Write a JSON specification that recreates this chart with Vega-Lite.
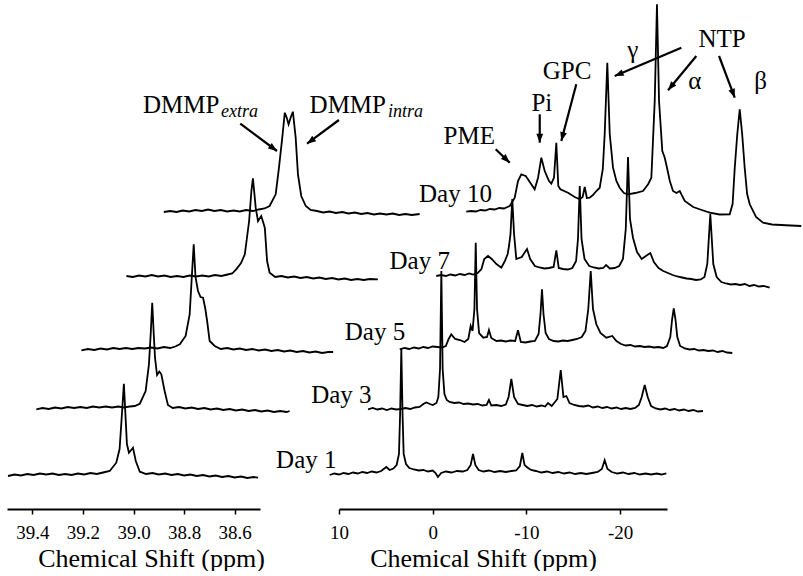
{
"$schema":"https://vega.github.io/schema/vega-lite/v6.json",
"padding":{"left":4,"top":0,"right":0,"bottom":0},
"bounds":"flush",
"spacing":79,
"config":{"view":{"stroke":null}},
"datasets":{
"L":[
{"d":1,"x":39.496,"y":33},{"d":1,"x":39.47,"y":34.5},{"d":1,"x":39.445,"y":33.5},{"d":1,"x":39.42,"y":35},{"d":1,"x":39.395,"y":34},{"d":1,"x":39.37,"y":35.5},{"d":1,"x":39.345,"y":34.5},{"d":1,"x":39.32,"y":35.5},{"d":1,"x":39.295,"y":34},{"d":1,"x":39.27,"y":35},{"d":1,"x":39.245,"y":34},{"d":1,"x":39.22,"y":35.5},{"d":1,"x":39.195,"y":34.5},{"d":1,"x":39.17,"y":36},{"d":1,"x":39.145,"y":35},{"d":1,"x":39.12,"y":36.5},{"d":1,"x":39.094,"y":38},{"d":1,"x":39.068,"y":46.3},{"d":1,"x":39.055,"y":60},{"d":1,"x":39.047,"y":90},{"d":1,"x":39.038,"y":125.3},{"d":1,"x":39.031,"y":90},{"d":1,"x":39.026,"y":65},{"d":1,"x":39.018,"y":56.3},{"d":1,"x":39.002,"y":61.3},{"d":1,"x":38.991,"y":48},{"d":1,"x":38.975,"y":37.3},{"d":1,"x":38.95,"y":35},{"d":1,"x":38.925,"y":36},{"d":1,"x":38.9,"y":34.5},{"d":1,"x":38.875,"y":35.5},{"d":1,"x":38.85,"y":34},{"d":1,"x":38.825,"y":35},{"d":1,"x":38.8,"y":33.5},{"d":1,"x":38.775,"y":34.5},{"d":1,"x":38.75,"y":33},{"d":1,"x":38.725,"y":34},{"d":1,"x":38.7,"y":32.5},{"d":1,"x":38.675,"y":33.5},{"d":1,"x":38.65,"y":32},{"d":1,"x":38.625,"y":33},{"d":1,"x":38.6,"y":31.5},{"d":1,"x":38.575,"y":32.5},{"d":1,"x":38.55,"y":31},{"d":1,"x":38.525,"y":32},{"d":1,"x":38.508,"y":31.3},
{"d":3,"x":39.384,"y":99.7},{"d":3,"x":39.36,"y":101},{"d":3,"x":39.335,"y":100},{"d":3,"x":39.31,"y":101.5},{"d":3,"x":39.285,"y":100.5},{"d":3,"x":39.26,"y":102},{"d":3,"x":39.235,"y":101},{"d":3,"x":39.21,"y":102},{"d":3,"x":39.185,"y":101},{"d":3,"x":39.16,"y":102.5},{"d":3,"x":39.135,"y":101.5},{"d":3,"x":39.11,"y":102.5},{"d":3,"x":39.085,"y":101.5},{"d":3,"x":39.06,"y":102.5},{"d":3,"x":39.038,"y":101.5},{"d":3,"x":39.015,"y":102.5},{"d":3,"x":38.995,"y":103},{"d":3,"x":38.975,"y":105.3},{"d":3,"x":38.952,"y":118},{"d":3,"x":38.939,"y":144.7},{"d":3,"x":38.932,"y":175},{"d":3,"x":38.926,"y":206.3},{"d":3,"x":38.92,"y":175},{"d":3,"x":38.915,"y":151.3},{"d":3,"x":38.907,"y":134},{"d":3,"x":38.898,"y":137.5},{"d":3,"x":38.89,"y":134.7},{"d":3,"x":38.877,"y":118},{"d":3,"x":38.864,"y":104},{"d":3,"x":38.845,"y":101},{"d":3,"x":38.82,"y":102},{"d":3,"x":38.795,"y":100.5},{"d":3,"x":38.77,"y":101.5},{"d":3,"x":38.745,"y":100},{"d":3,"x":38.72,"y":101},{"d":3,"x":38.695,"y":99.5},{"d":3,"x":38.67,"y":100.5},{"d":3,"x":38.645,"y":99},{"d":3,"x":38.62,"y":100},{"d":3,"x":38.595,"y":98.5},{"d":3,"x":38.57,"y":99.5},{"d":3,"x":38.545,"y":98},{"d":3,"x":38.52,"y":99},{"d":3,"x":38.495,"y":97.5},{"d":3,"x":38.47,"y":98.5},{"d":3,"x":38.445,"y":97},{"d":3,"x":38.42,"y":98},{"d":3,"x":38.395,"y":97},{"d":3,"x":38.383,"y":98},
{"d":5,"x":39.206,"y":158.7},{"d":5,"x":39.18,"y":160},{"d":5,"x":39.155,"y":159},{"d":5,"x":39.13,"y":160.5},{"d":5,"x":39.105,"y":159.5},{"d":5,"x":39.08,"y":161},{"d":5,"x":39.055,"y":160},{"d":5,"x":39.03,"y":161},{"d":5,"x":39.005,"y":160},{"d":5,"x":38.98,"y":161},{"d":5,"x":38.955,"y":160.5},{"d":5,"x":38.93,"y":161.5},{"d":5,"x":38.905,"y":160.5},{"d":5,"x":38.88,"y":162},{"d":5,"x":38.855,"y":161},{"d":5,"x":38.835,"y":162.5},{"d":5,"x":38.817,"y":164.7},{"d":5,"x":38.794,"y":173},{"d":5,"x":38.778,"y":194.7},{"d":5,"x":38.77,"y":230},{"d":5,"x":38.762,"y":264.7},{"d":5,"x":38.755,"y":232},{"d":5,"x":38.745,"y":218},{"d":5,"x":38.735,"y":212},{"d":5,"x":38.725,"y":211.3},{"d":5,"x":38.716,"y":200},{"d":5,"x":38.709,"y":188},{"d":5,"x":38.699,"y":168},{"d":5,"x":38.679,"y":163},{"d":5,"x":38.655,"y":160},{"d":5,"x":38.63,"y":161},{"d":5,"x":38.605,"y":159.5},{"d":5,"x":38.58,"y":160.5},{"d":5,"x":38.555,"y":159},{"d":5,"x":38.53,"y":160},{"d":5,"x":38.505,"y":158.5},{"d":5,"x":38.48,"y":159.5},{"d":5,"x":38.455,"y":158},{"d":5,"x":38.43,"y":159},{"d":5,"x":38.405,"y":157.5},{"d":5,"x":38.38,"y":158.5},{"d":5,"x":38.355,"y":157},{"d":5,"x":38.33,"y":158},{"d":5,"x":38.305,"y":156.5},{"d":5,"x":38.28,"y":157.5},{"d":5,"x":38.255,"y":156},{"d":5,"x":38.23,"y":157},{"d":5,"x":38.211,"y":157},
{"d":7,"x":39.028,"y":233},{"d":7,"x":39.003,"y":232},{"d":7,"x":38.978,"y":233.5},{"d":7,"x":38.953,"y":232.5},{"d":7,"x":38.928,"y":234},{"d":7,"x":38.903,"y":232.5},{"d":7,"x":38.878,"y":233.5},{"d":7,"x":38.853,"y":232},{"d":7,"x":38.828,"y":233},{"d":7,"x":38.803,"y":232},{"d":7,"x":38.778,"y":233.5},{"d":7,"x":38.753,"y":232.5},{"d":7,"x":38.728,"y":233.5},{"d":7,"x":38.703,"y":232.5},{"d":7,"x":38.678,"y":234},{"d":7,"x":38.653,"y":233},{"d":7,"x":38.628,"y":234.5},{"d":7,"x":38.61,"y":235.5},{"d":7,"x":38.594,"y":239.7},{"d":7,"x":38.575,"y":246},{"d":7,"x":38.56,"y":254.7},{"d":7,"x":38.543,"y":288},{"d":7,"x":38.534,"y":318},{"d":7,"x":38.528,"y":330.7},{"d":7,"x":38.522,"y":315},{"d":7,"x":38.517,"y":301.3},{"d":7,"x":38.508,"y":288},{"d":7,"x":38.495,"y":293},{"d":7,"x":38.481,"y":281.3},{"d":7,"x":38.472,"y":248},{"d":7,"x":38.462,"y":236.3},{"d":7,"x":38.44,"y":232},{"d":7,"x":38.415,"y":233},{"d":7,"x":38.39,"y":231.5},{"d":7,"x":38.365,"y":232.5},{"d":7,"x":38.34,"y":231},{"d":7,"x":38.315,"y":232},{"d":7,"x":38.29,"y":230.5},{"d":7,"x":38.265,"y":231.5},{"d":7,"x":38.24,"y":230},{"d":7,"x":38.215,"y":231},{"d":7,"x":38.19,"y":229.5},{"d":7,"x":38.165,"y":230.5},{"d":7,"x":38.14,"y":229},{"d":7,"x":38.115,"y":230},{"d":7,"x":38.09,"y":229},{"d":7,"x":38.065,"y":230},{"d":7,"x":38.034,"y":229.7},
{"d":10,"x":38.88,"y":297},{"d":10,"x":38.855,"y":298},{"d":10,"x":38.83,"y":297},{"d":10,"x":38.805,"y":298.5},{"d":10,"x":38.78,"y":297.5},{"d":10,"x":38.755,"y":299},{"d":10,"x":38.73,"y":298},{"d":10,"x":38.705,"y":299.5},{"d":10,"x":38.68,"y":298},{"d":10,"x":38.655,"y":299},{"d":10,"x":38.63,"y":297.5},{"d":10,"x":38.605,"y":298.5},{"d":10,"x":38.58,"y":297.5},{"d":10,"x":38.555,"y":299},{"d":10,"x":38.528,"y":298},{"d":10,"x":38.505,"y":299.5},{"d":10,"x":38.482,"y":300.5},{"d":10,"x":38.462,"y":303},{"d":10,"x":38.438,"y":314.7},{"d":10,"x":38.425,"y":341.3},{"d":10,"x":38.412,"y":371.3},{"d":10,"x":38.402,"y":396.3},{"d":10,"x":38.394,"y":391},{"d":10,"x":38.387,"y":384.7},{"d":10,"x":38.378,"y":392},{"d":10,"x":38.37,"y":397.3},{"d":10,"x":38.359,"y":371.3},{"d":10,"x":38.35,"y":334.7},{"d":10,"x":38.337,"y":313},{"d":10,"x":38.319,"y":303},{"d":10,"x":38.3,"y":299},{"d":10,"x":38.275,"y":298},{"d":10,"x":38.25,"y":296.5},{"d":10,"x":38.225,"y":297.5},{"d":10,"x":38.2,"y":296},{"d":10,"x":38.175,"y":297},{"d":10,"x":38.15,"y":295.5},{"d":10,"x":38.125,"y":296.5},{"d":10,"x":38.1,"y":295},{"d":10,"x":38.075,"y":296},{"d":10,"x":38.05,"y":294.5},{"d":10,"x":38.025,"y":295.5},{"d":10,"x":38.0,"y":294.5},{"d":10,"x":37.975,"y":295.5},{"d":10,"x":37.95,"y":294},{"d":10,"x":37.925,"y":295},{"d":10,"x":37.9,"y":294},{"d":10,"x":37.869,"y":295}
],
"R":[
{"d":1,"x":11.0,"y":34},{"d":1,"x":10.5,"y":35.5},{"d":1,"x":10.0,"y":34.5},{"d":1,"x":9.5,"y":36},{"d":1,"x":9.0,"y":35},{"d":1,"x":8.5,"y":36.5},{"d":1,"x":8.0,"y":35.5},{"d":1,"x":7.5,"y":37},{"d":1,"x":7.0,"y":36},{"d":1,"x":6.5,"y":37.5},{"d":1,"x":6.0,"y":36.5},{"d":1,"x":5.5,"y":38},{"d":1,"x":4.95,"y":42},{"d":1,"x":4.6,"y":39},{"d":1,"x":4.2,"y":40.5},{"d":1,"x":3.85,"y":44},{"d":1,"x":3.6,"y":55},{"d":1,"x":3.48,"y":95},{"d":1,"x":3.35,"y":160},{"d":1,"x":3.22,"y":95},{"d":1,"x":3.1,"y":55},{"d":1,"x":2.85,"y":45},{"d":1,"x":2.5,"y":41},{"d":1,"x":2.0,"y":39.5},{"d":1,"x":1.5,"y":38.5},{"d":1,"x":1.0,"y":39},{"d":1,"x":0.5,"y":37.5},{"d":1,"x":0.0,"y":38.5},{"d":1,"x":-0.3,"y":36},{"d":1,"x":-0.56,"y":32},{"d":1,"x":-0.9,"y":36},{"d":1,"x":-1.4,"y":37.5},{"d":1,"x":-2.0,"y":36.5},{"d":1,"x":-2.6,"y":38},{"d":1,"x":-3.2,"y":37.5},{"d":1,"x":-3.7,"y":39},{"d":1,"x":-4.05,"y":44},{"d":1,"x":-4.3,"y":55},{"d":1,"x":-4.55,"y":44},{"d":1,"x":-4.9,"y":39},{"d":1,"x":-5.4,"y":37.5},{"d":1,"x":-6.0,"y":38.5},{"d":1,"x":-6.6,"y":37},{"d":1,"x":-7.2,"y":38},{"d":1,"x":-7.8,"y":37},{"d":1,"x":-8.4,"y":38},{"d":1,"x":-8.9,"y":38.5},{"d":1,"x":-9.3,"y":43},{"d":1,"x":-9.56,"y":56},{"d":1,"x":-9.8,"y":44},{"d":1,"x":-10.1,"y":41.5},{"d":1,"x":-10.5,"y":39},{"d":1,"x":-11.0,"y":38},{"d":1,"x":-11.6,"y":36.5},{"d":1,"x":-12.2,"y":37.5},{"d":1,"x":-12.8,"y":36},{"d":1,"x":-13.4,"y":37},{"d":1,"x":-14.0,"y":35.5},{"d":1,"x":-14.6,"y":36.5},{"d":1,"x":-15.2,"y":35},{"d":1,"x":-15.8,"y":36},{"d":1,"x":-16.4,"y":35},{"d":1,"x":-17.0,"y":36},{"d":1,"x":-17.6,"y":37},{"d":1,"x":-18.05,"y":40},{"d":1,"x":-18.35,"y":48.7},{"d":1,"x":-18.65,"y":40},{"d":1,"x":-19.1,"y":37},{"d":1,"x":-19.7,"y":35.5},{"d":1,"x":-20.3,"y":36.5},{"d":1,"x":-20.9,"y":35},{"d":1,"x":-21.5,"y":36},{"d":1,"x":-22.1,"y":34.5},{"d":1,"x":-22.7,"y":35.5},{"d":1,"x":-23.3,"y":34.5},{"d":1,"x":-23.9,"y":35.5},{"d":1,"x":-24.4,"y":34.5},{"d":1,"x":-24.93,"y":35.7},
{"d":3,"x":6.9,"y":99.7},{"d":3,"x":6.4,"y":101},{"d":3,"x":5.9,"y":99.5},{"d":3,"x":5.4,"y":100.5},{"d":3,"x":4.9,"y":99},{"d":3,"x":4.4,"y":100.5},{"d":3,"x":3.9,"y":99.5},{"d":3,"x":3.4,"y":100},{"d":3,"x":2.9,"y":101},{"d":3,"x":2.4,"y":100},{"d":3,"x":1.9,"y":101.5},{"d":3,"x":1.4,"y":102},{"d":3,"x":1.0,"y":105},{"d":3,"x":0.68,"y":106.5},{"d":3,"x":0.3,"y":105},{"d":3,"x":0.0,"y":104},{"d":3,"x":-0.4,"y":106},{"d":3,"x":-0.6,"y":112},{"d":3,"x":-0.78,"y":140},{"d":3,"x":-0.92,"y":238},{"d":3,"x":-1.06,"y":140},{"d":3,"x":-1.25,"y":115},{"d":3,"x":-1.5,"y":109},{"d":3,"x":-1.8,"y":107},{"d":3,"x":-2.3,"y":106},{"d":3,"x":-2.8,"y":106.5},{"d":3,"x":-3.3,"y":105},{"d":3,"x":-3.8,"y":105.5},{"d":3,"x":-4.3,"y":104.5},{"d":3,"x":-4.8,"y":105},{"d":3,"x":-5.3,"y":103.5},{"d":3,"x":-5.75,"y":104},{"d":3,"x":-6.0,"y":109},{"d":3,"x":-6.25,"y":103.5},{"d":3,"x":-6.8,"y":104},{"d":3,"x":-7.3,"y":103},{"d":3,"x":-7.8,"y":104.5},{"d":3,"x":-8.1,"y":112},{"d":3,"x":-8.39,"y":130},{"d":3,"x":-8.68,"y":112},{"d":3,"x":-9.1,"y":105},{"d":3,"x":-9.6,"y":104},{"d":3,"x":-10.1,"y":103},{"d":3,"x":-10.6,"y":104},{"d":3,"x":-11.1,"y":102.5},{"d":3,"x":-11.6,"y":103.5},{"d":3,"x":-12.0,"y":102.5},{"d":3,"x":-12.3,"y":106},{"d":3,"x":-12.7,"y":103},{"d":3,"x":-13.3,"y":110},{"d":3,"x":-13.66,"y":139},{"d":3,"x":-13.95,"y":112},{"d":3,"x":-14.26,"y":113},{"d":3,"x":-14.6,"y":106},{"d":3,"x":-15.1,"y":104},{"d":3,"x":-15.6,"y":103},{"d":3,"x":-16.1,"y":102.5},{"d":3,"x":-16.6,"y":103.5},{"d":3,"x":-17.1,"y":101.5},{"d":3,"x":-17.6,"y":102.5},{"d":3,"x":-18.1,"y":101},{"d":3,"x":-18.6,"y":102},{"d":3,"x":-19.1,"y":100.5},{"d":3,"x":-19.6,"y":101.5},{"d":3,"x":-20.1,"y":100},{"d":3,"x":-20.6,"y":101},{"d":3,"x":-21.1,"y":100},{"d":3,"x":-21.6,"y":101},{"d":3,"x":-22.0,"y":104},{"d":3,"x":-22.3,"y":112},{"d":3,"x":-22.62,"y":124},{"d":3,"x":-22.94,"y":112},{"d":3,"x":-23.3,"y":103},{"d":3,"x":-23.8,"y":100.5},{"d":3,"x":-24.3,"y":99.5},{"d":3,"x":-24.8,"y":100.5},{"d":3,"x":-25.3,"y":99},{"d":3,"x":-25.8,"y":100},{"d":3,"x":-26.3,"y":98.5},{"d":3,"x":-26.8,"y":99.5},{"d":3,"x":-27.3,"y":98},{"d":3,"x":-27.8,"y":99},{"d":3,"x":-28.3,"y":97.5},{"d":3,"x":-28.84,"y":98},
{"d":5,"x":3.52,"y":159.7},{"d":5,"x":3.0,"y":161},{"d":5,"x":2.5,"y":160},{"d":5,"x":2.0,"y":161.5},{"d":5,"x":1.5,"y":160.5},{"d":5,"x":1.0,"y":162},{"d":5,"x":0.5,"y":161},{"d":5,"x":0.0,"y":162.5},{"d":5,"x":-0.5,"y":162},{"d":5,"x":-0.95,"y":161.5},{"d":5,"x":-1.4,"y":163},{"d":5,"x":-1.7,"y":170},{"d":5,"x":-1.98,"y":174.7},{"d":5,"x":-2.4,"y":170},{"d":5,"x":-2.9,"y":169},{"d":5,"x":-3.4,"y":167},{"d":5,"x":-3.8,"y":170},{"d":5,"x":-4.05,"y":183},{"d":5,"x":-4.25,"y":178},{"d":5,"x":-4.45,"y":200},{"d":5,"x":-4.59,"y":266.3},{"d":5,"x":-4.73,"y":200},{"d":5,"x":-4.95,"y":176},{"d":5,"x":-5.4,"y":171.3},{"d":5,"x":-5.8,"y":172},{"d":5,"x":-6.0,"y":179},{"d":5,"x":-6.25,"y":171},{"d":5,"x":-6.8,"y":168},{"d":5,"x":-7.3,"y":168.5},{"d":5,"x":-7.8,"y":167.5},{"d":5,"x":-8.3,"y":168.5},{"d":5,"x":-8.8,"y":168},{"d":5,"x":-9.1,"y":178.7},{"d":5,"x":-9.4,"y":167},{"d":5,"x":-9.9,"y":166.5},{"d":5,"x":-10.4,"y":167.5},{"d":5,"x":-10.9,"y":168},{"d":5,"x":-11.3,"y":175},{"d":5,"x":-11.5,"y":195},{"d":5,"x":-11.66,"y":219.7},{"d":5,"x":-11.82,"y":195},{"d":5,"x":-12.05,"y":176},{"d":5,"x":-12.4,"y":170},{"d":5,"x":-12.9,"y":168},{"d":5,"x":-13.4,"y":167.5},{"d":5,"x":-13.9,"y":168.5},{"d":5,"x":-14.4,"y":168},{"d":5,"x":-14.9,"y":169},{"d":5,"x":-15.4,"y":170},{"d":5,"x":-15.9,"y":172},{"d":5,"x":-16.3,"y":178},{"d":5,"x":-16.6,"y":200},{"d":5,"x":-16.86,"y":238},{"d":5,"x":-17.1,"y":200},{"d":5,"x":-17.46,"y":184.7},{"d":5,"x":-17.9,"y":176},{"d":5,"x":-18.52,"y":171.3},{"d":5,"x":-19.16,"y":173},{"d":5,"x":-19.6,"y":168},{"d":5,"x":-20.1,"y":165},{"d":5,"x":-20.6,"y":163.5},{"d":5,"x":-21.1,"y":164},{"d":5,"x":-21.6,"y":162.5},{"d":5,"x":-22.1,"y":163},{"d":5,"x":-22.6,"y":162},{"d":5,"x":-23.1,"y":162.5},{"d":5,"x":-23.6,"y":161.5},{"d":5,"x":-24.1,"y":162},{"d":5,"x":-24.6,"y":161},{"d":5,"x":-25.0,"y":163},{"d":5,"x":-25.35,"y":172},{"d":5,"x":-25.55,"y":190},{"d":5,"x":-25.72,"y":200.7},{"d":5,"x":-25.9,"y":190},{"d":5,"x":-26.1,"y":172},{"d":5,"x":-26.4,"y":163},{"d":5,"x":-26.9,"y":160.5},{"d":5,"x":-27.4,"y":159.5},{"d":5,"x":-27.9,"y":160},{"d":5,"x":-28.4,"y":158.5},{"d":5,"x":-28.9,"y":159},{"d":5,"x":-29.4,"y":158},{"d":5,"x":-29.9,"y":158.5},{"d":5,"x":-30.4,"y":157},{"d":5,"x":-30.9,"y":158},{"d":5,"x":-31.4,"y":156.5},{"d":5,"x":-31.97,"y":156},
{"d":7,"x":-0.38,"y":233},{"d":7,"x":-0.9,"y":234},{"d":7,"x":-1.4,"y":233},{"d":7,"x":-1.9,"y":234.5},{"d":7,"x":-2.4,"y":233.5},{"d":7,"x":-2.9,"y":235},{"d":7,"x":-3.4,"y":234},{"d":7,"x":-3.9,"y":235.5},{"d":7,"x":-4.3,"y":234.5},{"d":7,"x":-4.8,"y":236},{"d":7,"x":-5.2,"y":240},{"d":7,"x":-5.5,"y":250},{"d":7,"x":-5.9,"y":253},{"d":7,"x":-6.3,"y":250},{"d":7,"x":-6.8,"y":245},{"d":7,"x":-7.32,"y":241.3},{"d":7,"x":-7.7,"y":248},{"d":7,"x":-8.0,"y":255},{"d":7,"x":-8.14,"y":263},{"d":7,"x":-8.3,"y":275},{"d":7,"x":-8.49,"y":310},{"d":7,"x":-8.68,"y":275},{"d":7,"x":-8.92,"y":250},{"d":7,"x":-9.5,"y":252},{"d":7,"x":-10.06,"y":260},{"d":7,"x":-10.4,"y":250},{"d":7,"x":-10.9,"y":243},{"d":7,"x":-11.4,"y":241.5},{"d":7,"x":-11.9,"y":240.5},{"d":7,"x":-12.4,"y":241},{"d":7,"x":-12.9,"y":242},{"d":7,"x":-13.19,"y":258.7},{"d":7,"x":-13.45,"y":241},{"d":7,"x":-13.9,"y":240},{"d":7,"x":-14.4,"y":239.5},{"d":7,"x":-14.9,"y":241},{"d":7,"x":-15.3,"y":248},{"d":7,"x":-15.5,"y":270},{"d":7,"x":-15.69,"y":323},{"d":7,"x":-15.88,"y":270},{"d":7,"x":-16.2,"y":250},{"d":7,"x":-16.7,"y":243},{"d":7,"x":-17.2,"y":241.5},{"d":7,"x":-17.7,"y":240.5},{"d":7,"x":-18.2,"y":241},{"d":7,"x":-18.5,"y":244},{"d":7,"x":-18.9,"y":240.5},{"d":7,"x":-19.4,"y":241},{"d":7,"x":-19.9,"y":243},{"d":7,"x":-20.3,"y":250},{"d":7,"x":-20.6,"y":280},{"d":7,"x":-20.84,"y":352},{"d":7,"x":-21.05,"y":290},{"d":7,"x":-21.37,"y":271.3},{"d":7,"x":-21.8,"y":257},{"d":7,"x":-22.3,"y":250},{"d":7,"x":-22.9,"y":254},{"d":7,"x":-23.22,"y":256},{"d":7,"x":-23.6,"y":247},{"d":7,"x":-24.1,"y":241},{"d":7,"x":-24.6,"y":238},{"d":7,"x":-25.1,"y":236},{"d":7,"x":-25.6,"y":234},{"d":7,"x":-26.1,"y":232.5},{"d":7,"x":-26.6,"y":231.5},{"d":7,"x":-27.1,"y":230.5},{"d":7,"x":-27.6,"y":230},{"d":7,"x":-28.1,"y":229},{"d":7,"x":-28.6,"y":229.5},{"d":7,"x":-29.0,"y":232},{"d":7,"x":-29.3,"y":245},{"d":7,"x":-29.62,"y":295},{"d":7,"x":-29.94,"y":245},{"d":7,"x":-30.3,"y":232},{"d":7,"x":-30.8,"y":227},{"d":7,"x":-31.3,"y":225.5},{"d":7,"x":-31.8,"y":224.5},{"d":7,"x":-32.3,"y":225},{"d":7,"x":-32.8,"y":224},{"d":7,"x":-33.3,"y":225},{"d":7,"x":-33.8,"y":223},{"d":7,"x":-34.3,"y":224},{"d":7,"x":-34.8,"y":222.5},{"d":7,"x":-35.3,"y":223},{"d":7,"x":-35.96,"y":221.3},
{"d":10,"x":-3.58,"y":297.3},{"d":10,"x":-4.1,"y":298},{"d":10,"x":-4.6,"y":297.5},{"d":10,"x":-5.1,"y":299},{"d":10,"x":-5.6,"y":298.5},{"d":10,"x":-6.1,"y":300},{"d":10,"x":-6.6,"y":299.5},{"d":10,"x":-7.1,"y":301},{"d":10,"x":-7.6,"y":300.5},{"d":10,"x":-8.22,"y":303},{"d":10,"x":-8.75,"y":311.3},{"d":10,"x":-9.1,"y":328},{"d":10,"x":-9.45,"y":334.7},{"d":10,"x":-9.92,"y":333},{"d":10,"x":-10.41,"y":326.3},{"d":10,"x":-10.88,"y":319.7},{"d":10,"x":-11.24,"y":331.3},{"d":10,"x":-11.59,"y":351.3},{"d":10,"x":-11.95,"y":338},{"d":10,"x":-12.41,"y":328},{"d":10,"x":-12.66,"y":325.3},{"d":10,"x":-12.94,"y":331.3},{"d":10,"x":-13.19,"y":366.3},{"d":10,"x":-13.4,"y":323},{"d":10,"x":-13.62,"y":319.7},{"d":10,"x":-14.44,"y":316.3},{"d":10,"x":-15.15,"y":312},{"d":10,"x":-15.69,"y":309.7},{"d":10,"x":-16.0,"y":312},{"d":10,"x":-16.22,"y":322},{"d":10,"x":-16.45,"y":311},{"d":10,"x":-16.75,"y":311.3},{"d":10,"x":-17.1,"y":314},{"d":10,"x":-17.46,"y":318},{"d":10,"x":-17.82,"y":321.3},{"d":10,"x":-18.15,"y":340},{"d":10,"x":-18.35,"y":374.7},{"d":10,"x":-18.63,"y":446.3},{"d":10,"x":-18.89,"y":375},{"d":10,"x":-19.24,"y":341.3},{"d":10,"x":-19.6,"y":328},{"d":10,"x":-19.95,"y":321.3},{"d":10,"x":-20.4,"y":316},{"d":10,"x":-20.84,"y":314.7},{"d":10,"x":-21.6,"y":316},{"d":10,"x":-22.44,"y":318},{"d":10,"x":-23.0,"y":325},{"d":10,"x":-23.33,"y":331.3},{"d":10,"x":-23.69,"y":408},{"d":10,"x":-23.93,"y":504.7},{"d":10,"x":-24.15,"y":408},{"d":10,"x":-24.5,"y":358},{"d":10,"x":-24.76,"y":351.3},{"d":10,"x":-25.0,"y":341.3},{"d":10,"x":-25.3,"y":328},{"d":10,"x":-25.64,"y":318},{"d":10,"x":-26.0,"y":316},{"d":10,"x":-26.36,"y":318},{"d":10,"x":-26.89,"y":308},{"d":10,"x":-27.8,"y":302},{"d":10,"x":-28.7,"y":299},{"d":10,"x":-29.56,"y":296.3},{"d":10,"x":-30.6,"y":294.5},{"d":10,"x":-31.69,"y":294.7},{"d":10,"x":-32.0,"y":305},{"d":10,"x":-32.23,"y":341.3},{"d":10,"x":-32.5,"y":375},{"d":10,"x":-32.76,"y":399.7},{"d":10,"x":-33.02,"y":375},{"d":10,"x":-33.29,"y":341.3},{"d":10,"x":-33.55,"y":315},{"d":10,"x":-33.83,"y":304.7},{"d":10,"x":-34.5,"y":292},{"d":10,"x":-35.25,"y":286.3},{"d":10,"x":-36.2,"y":284.5},{"d":10,"x":-37.2,"y":284},{"d":10,"x":-38.2,"y":283.5},{"d":10,"x":-39.33,"y":283}
],
"Lt":[{"t":"DMMP","x":38.9625,"y":396.3},{"t":"DMMP","x":38.304,"y":396.3}],
"Ls":[{"t":"extra","x":38.654,"y":392.3},{"t":"intra","x":37.994,"y":392.3}],
"La":[{"x":38.578,"y":385.3,"x2":38.433,"y2":358},{"x":38.188,"y":389,"x2":38.314,"y2":365.3}],
"Lh":[{"x":38.433,"y":358,"a":126.6},{"x":38.314,"y":365.3,"a":233.5}],
"Rt":[{"t":"PME","x":-3.9,"y":365},{"t":"Pi","x":-11.64,"y":398},{"t":"GPC","x":-14.33,"y":429.7},{"t":"γ","x":-21.34,"y":451},{"t":"NTP","x":-30.87,"y":462},{"t":"α","x":-27.96,"y":420},{"t":"β","x":-34.98,"y":420}],
"Rd":[{"t":"Day 1","x":13.49,"y":41.3},{"t":"Day 3","x":9.75,"y":106.3},{"t":"Day 5","x":6.16,"y":169},{"t":"Day 7","x":1.39,"y":239.7},{"t":"Day 10","x":-2.43,"y":307}],
"Ra":[{"x":-6.72,"y":359.7,"x2":-8.22,"y2":346.3},{"x":-11.42,"y":394.7,"x2":-11.42,"y2":366.3},{"x":-15.32,"y":424.7,"x2":-13.72,"y2":368},{"x":-26.53,"y":461.3,"x2":-19.42,"y2":433},{"x":-28.13,"y":453,"x2":-25.11,"y2":418.7},{"x":-30.55,"y":453,"x2":-32.23,"y2":411.3}],
"Rh":[{"x":-8.22,"y":346.3,"a":133.7},{"x":-11.42,"y":366.3,"a":180},{"x":-13.72,"y":368,"a":194.8},{"x":-19.42,"y":433,"a":247},{"x":-25.11,"y":418.7,"a":219.5},{"x":-32.23,"y":411.3,"a":159.4}]
},
"hconcat":[
{"width":253,"height":508,
"encoding":{
"x":{"field":"x","type":"quantitative","scale":{"domain":[38.5,39.5],"reverse":true,"nice":false,"zero":false},"axis":{"values":[39.4,39.2,39.0,38.8,38.6],"format":".1f","title":"Chemical Shift (ppm)","grid":false,"domainColor":"black","domainWidth":2,"tickColor":"black","tickWidth":1.5,"tickSize":5,"labelFont":"Liberation Serif","labelFontSize":19,"labelColor":"black","labelPadding":9,"labelFlush":false,"titleFont":"Liberation Serif","titleFontSize":26,"titleFontWeight":"normal","titleColor":"black","titleX":144,"titleY":57,"titleBaseline":"alphabetic","titleAlign":"center"}},
"y":{"field":"y","type":"quantitative","scale":{"domain":[0,508],"nice":false,"zero":false},"axis":null}},
"layer":[
{"data":{"name":"L"},"mark":{"type":"line","color":"black","strokeWidth":1.8},"encoding":{"detail":{"field":"d","type":"nominal"}}},
{"data":{"name":"Lt"},"mark":{"type":"text","font":"Liberation Serif","fontSize":25,"align":"left","baseline":"alphabetic","color":"black"},"encoding":{"text":{"field":"t","type":"nominal"}}},
{"data":{"name":"Ls"},"mark":{"type":"text","font":"Liberation Serif","fontSize":18,"fontStyle":"italic","align":"left","baseline":"alphabetic","color":"black"},"encoding":{"text":{"field":"t","type":"nominal"}}},
{"data":{"name":"La"},"mark":{"type":"rule","color":"black","strokeWidth":2.2},"encoding":{"x2":{"field":"x2"},"y2":{"field":"y2"}}},
{"data":{"name":"Lh"},"mark":{"type":"point","shape":"M0,0L-0.65,1.7L0.65,1.7Z","filled":true,"color":"black","opacity":1,"size":110,"strokeWidth":0},"encoding":{"angle":{"field":"a","type":"quantitative","scale":null}}}
]},
{"width":328,"height":508,
"encoding":{
"x":{"field":"x","type":"quantitative","scale":{"domain":[-25,10],"reverse":true,"nice":false,"zero":false},"axis":{"values":[10,0,-10,-20],"labelExpr":"'' + datum.value","title":"Chemical Shift (ppm)","grid":false,"domainColor":"black","domainWidth":2,"tickColor":"black","tickWidth":1.5,"tickSize":5,"labelFont":"Liberation Serif","labelFontSize":19,"labelColor":"black","labelPadding":9,"labelFlush":false,"titleFont":"Liberation Serif","titleFontSize":26,"titleFontWeight":"normal","titleColor":"black","titleX":144,"titleY":57,"titleBaseline":"alphabetic","titleAlign":"center"}},
"y":{"field":"y","type":"quantitative","scale":{"domain":[0,508],"nice":false,"zero":false},"axis":null}},
"layer":[
{"data":{"name":"R"},"mark":{"type":"line","color":"black","strokeWidth":1.8},"encoding":{"detail":{"field":"d","type":"nominal"}}},
{"data":{"name":"Rd"},"mark":{"type":"text","font":"Liberation Serif","fontSize":25,"align":"center","baseline":"alphabetic","color":"black"},"encoding":{"text":{"field":"t","type":"nominal"}}},
{"data":{"name":"Rt"},"mark":{"type":"text","font":"Liberation Serif","fontSize":25,"align":"center","baseline":"alphabetic","color":"black"},"encoding":{"text":{"field":"t","type":"nominal"}}},
{"data":{"name":"Ra"},"mark":{"type":"rule","color":"black","strokeWidth":2.2},"encoding":{"x2":{"field":"x2"},"y2":{"field":"y2"}}},
{"data":{"name":"Rh"},"mark":{"type":"point","shape":"M0,0L-0.65,1.7L0.65,1.7Z","filled":true,"color":"black","opacity":1,"size":110,"strokeWidth":0},"encoding":{"angle":{"field":"a","type":"quantitative","scale":null}}}
]}
]
}
